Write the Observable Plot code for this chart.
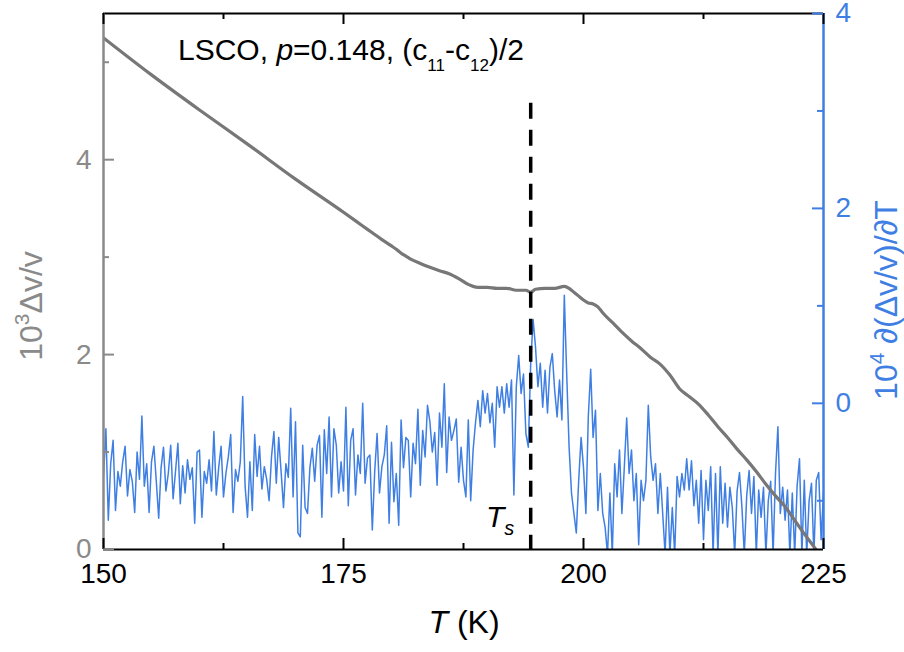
<!DOCTYPE html>
<html><head><meta charset="utf-8">
<script src="https://cdn.jsdelivr.net/npm/d3@7"></script>
<script src="https://cdn.jsdelivr.net/npm/@observablehq/plot@0.6"></script>
<style>body{margin:0;background:#fff;} #chart{width:904px;height:652px;}</style>
</head><body><div id="chart"></div>
<script>
// ---------- data ----------
// Derivative 10^4 d(dv/v)/dT, sampled every 0.25 K from 150 K (right axis units)
const T_START = 150, T_STEP = 0.25;
const dvdT_150 = [-0.75,-0.26,-1.20,-0.62,-0.38,-1.10,-0.70,-0.85,-0.60,-0.44,-0.95,-0.68,-0.80,-1.12,-0.50,-0.78,-0.13,-0.85,-0.62,-1.12];
const dvdT_155 = [-0.60,-0.44,-0.80,-1.18,-0.66,-0.45,-0.90,-0.72,-0.43,-0.98,-0.70,-0.41,-1.03,-0.64,-0.92,-0.58,-0.78,-0.66,-1.23,-0.50];
const dvdT_160 = [-0.48,-1.17,-0.70,-0.82,-0.58,-0.90,-0.29,-0.94,-0.66,-0.44,-0.96,-0.72,-0.55,-0.32,-1.12,-0.68,-0.80,-0.60,0.07,-0.85];
const dvdT_165 = [-1.17,-0.60,-1.10,-0.32,-0.75,-0.44,-0.88,-0.65,-0.78,-1.00,-0.55,-0.29,-0.82,-0.35,-0.70,-1.07,-0.62,-0.76,-0.05,-0.96];
const dvdT_170 = [-0.19,-1.33,-1.37,-0.43,-1.07,-1.13,-0.66,-0.46,-0.80,-0.43,-0.33,-1.17,-0.27,-0.72,-0.14,-0.96,-0.26,-0.43,-0.92,-0.60];
const dvdT_175 = [-0.90,-0.04,-1.05,-0.38,-0.26,-0.94,-0.53,-0.72,0.00,-0.82,-0.56,-0.53,-1.30,-0.70,-0.31,-0.92,-0.65,-0.53,-0.23,-1.23];
const dvdT_180 = [-0.40,-1.01,-0.72,-1.25,-0.17,-0.66,-0.35,-0.38,-0.96,-0.41,-0.62,-0.06,-0.84,-0.28,-0.55,-0.02,-0.19,-0.50,-0.30,-0.84];
const dvdT_185 = [-0.10,-0.45,0.20,-0.71,-0.14,-0.38,-0.28,-0.16,-0.81,-0.45,-0.79,-0.96,-0.17,-1.00,-0.48,-0.20,0.03,-0.24,0.13,-0.10];
const dvdT_190 = [0.10,-0.20,0.00,-0.45,0.17,-0.04,0.17,-0.10,0.20,-0.04,0.24,-0.94,0.17,0.49,0.10,0.30,-0.31,-0.45,0.41,0.86];
const dvdT_195 = [0.58,0.17,0.41,-0.04,0.34,-0.10,0.37,0.51,0.13,-0.14,0.24,-0.17,1.11,0.30,-0.45,-0.92,-1.13,-1.33,-0.79,-0.35];
const dvdT_200 = [-0.66,-1.13,-0.14,0.35,-0.35,-0.07,-1.10,-0.72,-1.13,-1.27,-1.55,-0.92,-1.55,-0.62,-0.96,-0.48,-1.13,-0.66,-0.15,-0.72];
const dvdT_205 = [-0.48,-1.00,-0.72,-1.45,-0.79,-1.00,-0.79,-0.02,-0.55,-0.79,-0.62,-1.13,-0.72,-1.13,-1.55,-0.86,-1.55,-1.07,-1.55,-0.75];
const dvdT_210 = [-0.96,-0.72,-0.89,-0.57,-0.89,-0.59,-1.05,-0.79,-1.23,-0.69,-1.40,-0.79,-1.10,-0.65,-1.55,-0.72,-1.55,-0.65,-1.23,-0.82];
const dvdT_215 = [-1.27,-0.86,-1.07,-1.55,-0.90,-0.71,-1.06,-1.55,-0.95,-0.69,-1.13,-0.75,-1.55,-0.89,-1.17,-0.86,-1.55,-1.00,-0.80,-1.55];
const dvdT_220 = [-0.72,-0.24,-1.13,-0.86,-1.20,-0.89,-1.55,-0.92,-1.55,-0.85,-0.57,-1.55,-0.79,-1.55,-1.00,-0.82,-1.55,-0.79,-0.71,-1.40,-0.92];

// 10^3 dv/v (left axis units)
const softT = [150,155,160,165,170,175,177,178,179,180,180.5,181,181.5,182,183,184,185,186,187,188,188.5,189,190,191,192,193,194,194.5,195,196,197,198,198.5,199,199.5,200,200.5,201,201.5,202,203,204,205,206,207,208,209,210,211,212,213,214,215,216,217,218,219,220,221,222,223,224,224.5];
const softV = [5.25,4.87,4.51,4.16,3.80,3.46,3.32,3.25,3.18,3.115,3.08,3.04,3.01,2.98,2.935,2.895,2.86,2.83,2.78,2.72,2.70,2.69,2.69,2.68,2.68,2.66,2.66,2.64,2.67,2.68,2.68,2.70,2.68,2.64,2.60,2.56,2.53,2.52,2.49,2.43,2.33,2.23,2.14,2.06,1.97,1.90,1.79,1.65,1.57,1.49,1.38,1.26,1.15,1.03,0.92,0.80,0.67,0.55,0.44,0.30,0.16,0.03,-0.04];

const xDomain = [150, 225];
const leftDomain = [0, 5.5];
const rightDomain = [-1.5, 4];
const xTicks = [150, 175, 200, 225];
const xMinor = [162.5, 187.5, 212.5];
const leftTicks = [0, 2, 4];
const leftMinor = [1, 3, 5];
const rightTicks = [0, 2, 4];
const rightMinor = [-1, 1, 3];
const Ts = 194.5;
const TsTop = 4.58;

// ---------- styles ----------
const BLUE = "#3f7fe3", GRAY_AX = "#8a8a8a", GRAY_LINE = "#777777";
const FONT = "Liberation Sans, Arial, Helvetica, sans-serif";
const W = 904, H = 652, mL = 103, mR = 81, mT = 13, mB = 103;

const dvdT = [dvdT_150,dvdT_155,dvdT_160,dvdT_165,dvdT_170,dvdT_175,dvdT_180,dvdT_185,dvdT_190,dvdT_195,dvdT_200,dvdT_205,dvdT_210,dvdT_215,dvdT_220].flat();
const deriv = dvdT.map((v, i) => ({T: T_START + i * T_STEP, v}));
const soft = softT.map((T, i) => ({T, v: softV[i]}));

const span = d => d[1] - d[0];
const toLeft = v => leftDomain[0] + (v - rightDomain[0]) * span(leftDomain) / span(rightDomain);
const fromLeft = y => rightDomain[0] + (y - leftDomain[0]) * span(rightDomain) / span(leftDomain);
const pxX = span(xDomain) / (W - mL - mR);
const pxY = span(leftDomain) / (H - mT - mB);

const tickX = (vals, atY, dir, len, color) => Plot.ruleX(vals, {x: d => d, y1: atY, y2: atY + dir * len * pxY, stroke: color, strokeWidth: 2});
const tickY = (vals, atX, dir, len, color) => Plot.ruleY(vals, {y: d => d, x1: atX, x2: atX + dir * len * pxX, stroke: color, strokeWidth: 2});

const svg = Plot.plot({
  width: W, height: H,
  marginLeft: mL, marginRight: mR, marginTop: mT, marginBottom: mB,
  style: {fontFamily: FONT, background: "white", overflow: "visible"},
  x: {domain: xDomain},
  y: {domain: leftDomain},
  marks: [
    Plot.line(deriv, {x: "T", y: d => toLeft(d.v), stroke: BLUE, strokeWidth: 1.5, clip: true}),
    Plot.line(soft, {x: "T", y: "v", stroke: GRAY_LINE, strokeWidth: 3.2, curve: "monotone-x", clip: true}),
    Plot.ruleX([Ts], {x: d => d, y1: TsTop, y2: 0, stroke: "black", strokeWidth: 3.5, strokeDasharray: "16,11"}),
    // frame lines
    Plot.ruleY([leftDomain[0]], {y: d => d, stroke: "black", strokeWidth: 2}),
    Plot.ruleY([leftDomain[1]], {y: d => d, stroke: "black", strokeWidth: 2}),
    Plot.ruleX([xDomain[0]], {x: d => d, stroke: GRAY_AX, strokeWidth: 2.5}),
    Plot.ruleX([xDomain[1]], {x: d => d, stroke: BLUE, strokeWidth: 2.5}),
    // inward ticks
    tickX(xTicks, leftDomain[0], 1, 11, "black"),
    tickX(xMinor, leftDomain[0], 1, 6, "black"),
    tickX(xTicks, leftDomain[1], -1, 11, "black"),
    tickX(xMinor, leftDomain[1], -1, 6, "black"),
    tickY(leftTicks, xDomain[0], 1, 11, GRAY_AX),
    tickY(leftMinor, xDomain[0], 1, 6, GRAY_AX),
    tickY(rightTicks.map(toLeft), xDomain[1], -1, 11, BLUE),
    tickY(rightMinor.map(toLeft), xDomain[1], -1, 6, BLUE),
    // tick labels
    Plot.axisX({ticks: xTicks, tickSize: 0, tickPadding: 14, fontSize: 28, color: "black", label: null, tickFormat: d => String(d)}),
    Plot.axisY({anchor: "left", ticks: leftTicks, tickSize: 0, tickPadding: 12, fontSize: 28, color: GRAY_AX, label: null, tickFormat: d => String(d)}),
    Plot.axisY({anchor: "right", ticks: rightTicks.map(toLeft), tickSize: 0, tickPadding: 12, fontSize: 28, color: BLUE, label: null,
      tickFormat: d => String(Math.round(fromLeft(d)))})
  ]
});

// rich text labels (super/subscripts)
function rich(parent, {x, y, rotate = 0, anchor = "start", fill = "black", size, parts}) {
  const t = d3.select(parent).append("text")
    .attr("transform", `translate(${x},${y}) rotate(${rotate})`)
    .attr("text-anchor", anchor).attr("fill", fill)
    .attr("font-family", FONT).attr("font-size", size);
  let shift = 0;
  for (const p of parts) {
    const target = p.shift || 0;
    const s = t.append("tspan").text(p.t);
    if (target - shift !== 0) s.attr("dy", target - shift);
    shift = target;
    if (p.size) s.attr("font-size", p.size);
    if (p.italic) s.attr("font-style", "italic");
  }
  return t;
}

rich(svg, {x: 178, y: 60, size: 30, parts: [
  {t: "LSCO, "}, {t: "p", italic: true}, {t: "=0.148, (c"},
  {t: "11", size: 17, shift: 11}, {t: "-c", shift: 0}, {t: "12", size: 17, shift: 11}, {t: ")/2", shift: 0}
]});
rich(svg, {x: 464, y: 633, anchor: "middle", size: 32, parts: [
  {t: "T", italic: true}, {t: " (K)"}
]});
rich(svg, {x: 42, y: 306, rotate: -90, anchor: "middle", fill: GRAY_AX, size: 32, parts: [
  {t: "10"}, {t: "3", size: 21, shift: -13}, {t: "Δv/v", shift: 0}
]});
rich(svg, {x: 897, y: 300, rotate: -90, anchor: "middle", fill: BLUE, size: 32, parts: [
  {t: "10"}, {t: "4", size: 21, shift: -13}, {t: " ∂(Δv/v)/∂T", shift: 0}
]});
rich(svg, {x: 486, y: 527, size: 30, parts: [
  {t: "T", italic: true}, {t: "s", italic: true, size: 20, shift: 8}
]});

document.getElementById("chart").appendChild(svg);
</script>
</body></html>
